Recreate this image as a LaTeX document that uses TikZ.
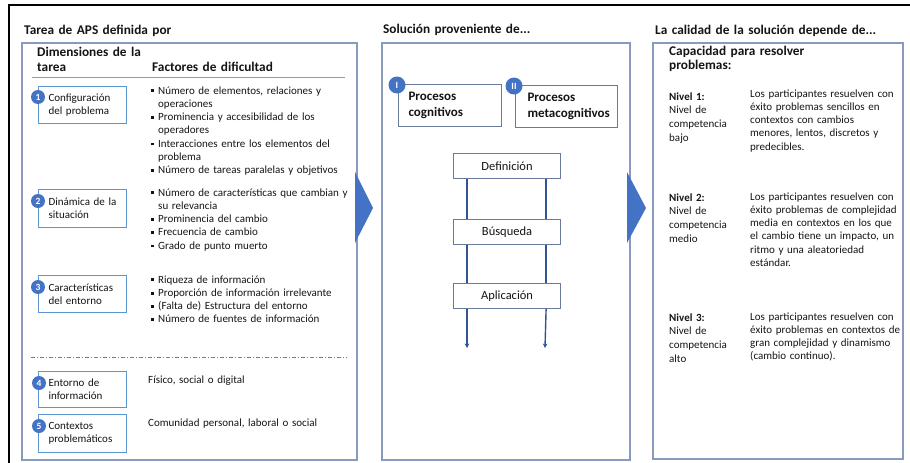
\documentclass[tikz,border=0pt]{standalone}
\usepackage{fontspec}
\setmainfont{Carlito}
\usetikzlibrary{arrows.meta}
\hyphenpenalty=10000
\exhyphenpenalty=10000
\definecolor{panelc}{RGB}{136,155,190}
\definecolor{circc}{RGB}{68,114,196}
\definecolor{boxc}{RGB}{91,150,210}
\definecolor{mboxc}{RGB}{105,122,158}
\definecolor{arrc}{RGB}{47,85,151}
\definecolor{txtc}{RGB}{20,20,20}
\definecolor{dashc}{RGB}{80,130,200}
\newcommand{\bul}{\makebox[7pt][l]{\rule[1.8pt]{2.8pt}{2.8pt}}}
\newcommand{\ind}{\hspace*{7pt}}
\begin{document}
\begin{tikzpicture}[x=1pt,y=-1pt,
  every node/.style={text=txtc},
  txt/.style={inner sep=0pt, anchor=base west, align=left, text width=#1, font=\fontsize{11}{13.3}\selectfont},
  txt/.default=210pt,
  head/.style={inner sep=0pt, anchor=base west, align=left, text width=#1, font=\fontsize{13.3}{15}\selectfont\bfseries},
  head/.default=250pt,
  dimbox/.style={draw=boxc, line width=1.1pt, fill=white, anchor=north west, minimum width=88pt, minimum height=37pt, inner xsep=10pt, inner ysep=0pt, text width=68pt, align=left, font=\fontsize{11}{12.8}\selectfont},
  numc/.style={circle, fill=circc, text=white, inner sep=0pt, minimum size=14pt, font=\fontsize{9.5}{10}\selectfont\bfseries},
  romc/.style={numc, minimum size=17pt, font=\fontsize{9.5}{10}\selectfont\bfseries},
  procbox/.style={draw=mboxc, line width=1.1pt, anchor=north west, minimum width=103pt, minimum height=42pt, inner xsep=7pt, text width=89pt, align=left, font=\fontsize{13}{16}\selectfont\bfseries},
  stepbox/.style={draw=mboxc, line width=1.1pt, anchor=north west, minimum width=107pt, minimum height=25pt, inner sep=0pt, font=\fontsize{12.5}{14}\selectfont},
  vline/.style={draw=arrc, line width=1.4pt},
  panel/.style={draw=panelc, line width=1.1pt}
]
\useasboundingbox (0,0) rectangle (910,463);
\draw[black, line width=2.5pt] (9,470) -- (9,5) -- (915,5);

% panels
\draw[panel] (22,43) rectangle (357,460);
\draw[panel] (382,43) rectangle (630,460);
\draw[panel] (653,43) rectangle (903,459);

% arrows between panels
\fill[circc] (355,172) -- (373,208) -- (355,243) -- cycle;
\fill[circc] (627,172) -- (646,208) -- (627,243) -- cycle;

% ---------- left panel ----------
\node[head] (t1) at (24,34) {Tarea de APS definida por};
\node[head] (dim) at (37,56) {Dimensiones de la\\tarea};
\node[head] (fac) at (152,71) {Factores de dificultad};
\draw[draw=panelc, line width=1pt] (32,77) -- (345,77);

\node[dimbox] (b1) at (38,86) {Configuración\\del problema};
\node[dimbox, minimum height=38pt] (b2) at (38,189) {Dinámica de la\\situación};
\node[dimbox] (b3) at (38,275) {Características\\del entorno};
\node[dimbox, minimum height=36pt] (b4) at (38,371) {Entorno de\\información};
\node[dimbox, minimum height=38pt] (b5) at (38,414) {Contextos\\problemáticos};

\node[numc] (c1) at ([yshift=-11pt]b1.north west) {1};
\node[numc] (c2) at ([yshift=-12pt]b2.north west) {2};
\node[numc] (c3) at ([yshift=-12pt]b3.north west) {3};
\node[numc] (c4) at ([xshift=1pt,yshift=-12pt]b4.north west) {4};
\node[numc] (c5) at ([xshift=1pt,yshift=-12pt]b5.north west) {5};

\node[txt] (f1) at (151,94) {\bul Número de elementos, relaciones y\\\ind operaciones\\\bul Prominencia y accesibilidad de los\\\ind operadores\\\bul Interacciones entre los elementos del\\\ind problema\\\bul Número de tareas paralelas y objetivos};
\node[txt] (f2) at (151,196) {\bul Número de características que cambian y\\\ind su relevancia\\\bul Prominencia del cambio\\\bul Frecuencia de cambio\\\bul Grado de punto muerto};
\node[txt] (f3) at (151,283) {\bul Riqueza de información\\\bul Proporción de información irrelevante\\\bul (Falta de) Estructura del entorno\\\bul Número de fuentes de información};

\draw[dashc, line width=1pt, dash pattern=on 4pt off 2pt on 1pt off 2pt] (31,357) -- (347,357);

\node[txt] (x4) at (148,383) {Físico, social o digital};
\node[txt] (x5) at (148,426) {Comunidad personal, laboral o social};

% ---------- middle panel ----------
\node[head] (t2) at (383,33) {Solución proveniente de...};
\node[procbox] (p1) at (398,84) {\hspace*{3pt}Procesos\\\hspace*{3pt}cognitivos};
\node[procbox, minimum width=102pt, text width=88pt] (p2) at (515,85) {\hspace*{5pt}Procesos\\\hspace*{5pt}metacognitivos};
\node[romc] (r1) at ([xshift=-1pt,yshift=-1pt]p1.north west) {I};
\node[romc] (r2) at ([xshift=-1pt,yshift=-1pt]p2.north west) {II};

\node[stepbox] (s1) at (453,153) {Definición};
\node[stepbox] (s2) at (453,219) {Búsqueda};
\node[stepbox] (s3) at (453,283) {Aplicación};
\coordinate (e1) at (467,348);
\coordinate (e2) at (545,348);
\draw[vline] ([xshift=14pt]s1.south west) -- ([xshift=14pt]s2.north west);
\draw[vline] ([xshift=-15pt]s1.south east) -- ([xshift=-15pt]s2.north east);
\draw[vline] ([xshift=14pt]s2.south west) -- ([xshift=14pt]s3.north west);
\draw[vline] ([xshift=-15pt]s2.south east) -- ([xshift=-15pt]s3.north east);
\draw[vline, -{Stealth[length=4.5pt,width=4.5pt]}] ([xshift=14pt]s3.south west) -- (e1);
\draw[vline, -{Stealth[length=4.5pt,width=4.5pt]}] ([xshift=-15pt]s3.south east) -- (e2);

% ---------- right panel ----------
\node[head] (t3) at (655,34) {La calidad de la solución depende de...};
\node[head, font=\fontsize{13.3}{14.5}\selectfont\bfseries] (cap) at (669,55) {Capacidad para resolver\\problemas:};

\node[txt=75pt, font=\fontsize{11}{13.7}\selectfont] (n1) at (669,100) {\textbf{Nivel 1:}\\Nivel de\\competencia\\bajo};
\node[txt=150pt] (d1) at (750,97) {Los participantes resuelven con\\éxito problemas sencillos en\\contextos con cambios\\menores, lentos, discretos y\\predecibles.};

\node[txt=75pt, font=\fontsize{11}{13.7}\selectfont] (n2) at (669,201) {\textbf{Nivel 2:}\\Nivel de\\competencia\\medio};
\node[txt=150pt] (d2) at (750,200) {Los participantes resuelven con\\éxito problemas de complejidad\\media en contextos en los que\\el cambio tiene un impacto, un\\ritmo y una aleatoriedad\\estándar.};

\node[txt=75pt, font=\fontsize{11}{13.7}\selectfont] (n3) at (669,321) {\textbf{Nivel 3:}\\Nivel de\\competencia\\alto};
\node[txt=150pt] (d3) at (750,320) {Los participantes resuelven con\\éxito problemas en contextos de\\gran complejidad y dinamismo\\(cambio continuo).};
\end{tikzpicture}
\end{document}
